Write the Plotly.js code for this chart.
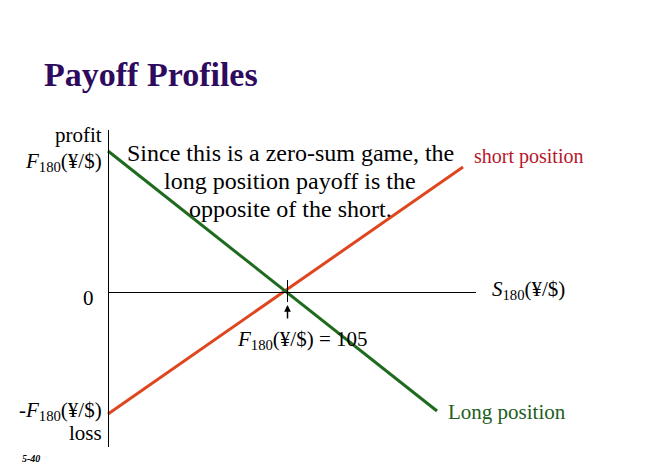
<!DOCTYPE html>
<html>
<head>
<meta charset="utf-8">
<script src="https://cdn.plot.ly/plotly-3.0.1.min.js"></script>
<style>html,body{margin:0;padding:0;background:#fff;}#chart{width:648px;height:468px;}</style>
</head>
<body>
<div id="chart"></div>
<script>
// Data (spot rate S in ¥/$, payoff in ¥/$ units)
const forwardRate = 105;
const shortS = [87.1, 122.6];
const shortPayoff = [-12.2, 12.5];
const longS = [87.1, 120.0];
const longPayoff = [14.1, -11.9];
const axisS = [87.15, 123.9];
const axisPayoff = [16.2, -15.5];

const serif = "Liberation Serif";
const ORANGE = "#E0461E";
const GREEN = "#1E6A1E";

const traces = [
  {x: shortS, y: shortPayoff, mode: "lines", line: {color: ORANGE, width: 3}, hoverinfo: "skip"},
  {x: longS, y: longPayoff, mode: "lines", line: {color: GREEN, width: 3}, hoverinfo: "skip"}
];

const px = v => v / 648;
const py = v => 1 - v / 468;

function ann(text, x, y, size, color, xanchor) {
  return {
    text: text, xref: "paper", yref: "paper", x: px(x), y: py(y),
    showarrow: false, xanchor: xanchor || "center", yanchor: "middle",
    font: {family: serif, size: size, color: color || "#000"}
  };
}

const annotations = [
  ann("Since this is a zero-sum game, the", 290, 153, 24),
  ann("long position payoff is the", 290, 181, 24),
  ann("opposite of the short.", 290, 209, 24),
  ann("short position", 528, 157, 20, "#B5172B"),
  ann("Long position", 507, 412, 21, "#1E5E1E"),
  ann("<i>S</i><sub>180</sub>(¥/$)", 528, 290, 21),
  ann("0", 88, 298, 21),
  ann("profit", 104, 135, 21, null, "right"),
  ann("<i>F</i><sub>180</sub>(¥/$)", 104, 162, 21, null, "right"),
  ann("-<i>F</i><sub>180</sub>(¥/$)", 104, 411, 21, null, "right"),
  ann("loss", 104, 433, 21, null, "right"),
  ann("<i>F</i><sub>180</sub>(¥/$) = " + forwardRate, 302, 340, 21),
  ann("<b><i>5-40</i></b>", 31, 458, 10),
  {x: forwardRate + 0.05, y: -1.3, ax: forwardRate + 0.05, ay: -2.8, xref: "x", yref: "y", axref: "x", ayref: "y",
   showarrow: true, arrowhead: 2, arrowsize: 0.9, arrowwidth: 1.5, arrowcolor: "#000", text: ""}
];

const shapes = [
  {type: "line", xref: "x", yref: "y", x0: axisS[0], x1: axisS[0], y0: axisPayoff[0], y1: axisPayoff[1], line: {color: "#000", width: 1}},
  {type: "line", xref: "x", yref: "y", x0: axisS[0], x1: axisS[1], y0: -0.05, y1: -0.05, line: {color: "#000", width: 1}},
  {type: "line", xref: "x", yref: "y", x0: forwardRate + 0.05, x1: forwardRate + 0.05, y0: 1.2, y1: -1.0, line: {color: "#000", width: 1}}
];

const layout = {
  width: 648, height: 468,
  margin: {l: 0, r: 0, t: 0, b: 0},
  paper_bgcolor: "#fff", plot_bgcolor: "#fff",
  showlegend: false,
  title: {text: "<b>Payoff Profiles</b>", x: px(44), xanchor: "left", y: py(74), yanchor: "middle",
          font: {family: serif, size: 34, color: "#2E0B5E"}},
  xaxis: {range: [76.3, 141.1], visible: false, fixedrange: true},
  yaxis: {range: [-17.6, 29.2], visible: false, fixedrange: true},
  annotations: annotations,
  shapes: shapes
};

Plotly.newPlot("chart", traces, layout, {staticPlot: true, displayModeBar: false});
</script>
</body>
</html>
